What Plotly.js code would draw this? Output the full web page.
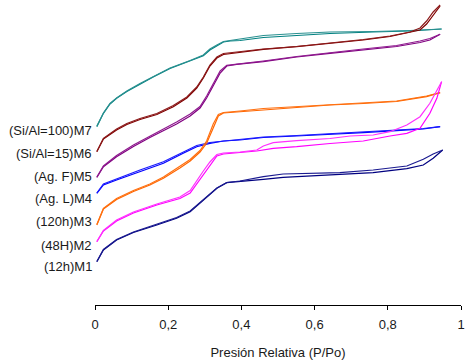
<!DOCTYPE html>
<html>
<head>
<meta charset="utf-8">
<script src="https://cdn.plot.ly/plotly-3.0.1.min.js"></script>
<style>html,body{margin:0;padding:0;background:#fff}#chart{width:468px;height:360px}</style>
</head>
<body>
<div id="chart"></div>
<script>
// Sample names (labels at left of each isotherm)
const sampleLabels = ["(Si/Al=100)M7", "(Si/Al=15)M6", "(Ag. F)M5", "(Ag. L)M4", "(120h)M3", "(48H)M2", "(12h)M1"];

// Isotherms: relative pressure (P/Po) and adsorbed quantity (offset, arbitrary units)
// M7
const m7AdsX = [0.005,0.023,0.041,0.059,0.087,0.123,0.159,0.205,0.26,0.296,0.314,0.333,0.351,0.369,0.396,0.46,0.551,0.642,0.76,0.861,0.947];
const m7AdsY = [179.3,192.7,202,207.7,214.5,222,229,237.5,245,250.3,256,260.5,264,265,265.5,268.5,270.5,272.5,274,275,277];
const m7DesX = [0.947,0.861,0.76,0.642,0.551,0.46,0.396,0.369,0.351,0.333,0.314,0.296,0.26,0.205,0.159,0.123,0.087,0.059,0.041,0.023,0.005];
const m7DesY = [277,275.5,274.5,274,272.5,270.5,267,265.5,264.5,261,257,251,245.5,238,229.5,222.5,215,208,202.5,193,180];
// M6
const m6AdsX = [0.005,0.023,0.059,0.087,0.123,0.169,0.214,0.251,0.278,0.296,0.314,0.333,0.351,0.378,0.396,0.46,0.551,0.642,0.733,0.806,0.861,0.888,0.906,0.924,0.943];
const m6AdsY = [154.3,167,176,181.5,186.5,191.5,199.3,208,218,228,240,248,251.5,252.7,253.3,256.7,259.3,262.7,266,269.5,273.5,276,282,290.5,300];
const m6DesX = [0.943,0.924,0.906,0.888,0.861,0.806,0.733,0.642,0.551,0.46,0.396,0.378,0.351,0.333,0.314,0.296,0.278,0.251,0.214,0.169,0.123,0.087,0.059,0.023,0.005];
const m6DesY = [301,294,285,278,274,270,266.5,263,259.5,257,254,253.3,252.5,249,241,229,219,209,200.5,192.5,187.5,182.5,177,167.5,154.5];
// M5
const m5AdsX = [0.005,0.023,0.059,0.105,0.15,0.187,0.223,0.26,0.287,0.305,0.323,0.342,0.36,0.387,0.46,0.551,0.642,0.733,0.824,0.888,0.915,0.943];
const m5AdsY = [128.5,139.3,149.3,159.5,168.5,175,182,190,198,208,220,233,240,241.7,244.3,249,252.7,256,259.5,263.5,266,271.7];
const m5DesX = [0.943,0.915,0.888,0.824,0.733,0.642,0.551,0.46,0.387,0.36,0.342,0.323,0.305,0.287,0.26,0.223,0.187,0.15,0.105,0.059,0.023,0.005];
const m5DesY = [271.7,267.5,265,260.5,257,253.5,249.5,245,242.3,240.7,235,222,210,199.5,192,184,177,170,161,150.5,140,129];
// M4
const m4AdsX = [0.005,0.023,0.059,0.123,0.187,0.241,0.278,0.314,0.351,0.396,0.46,0.551,0.642,0.733,0.824,0.897,0.943];
const m4AdsY = [112.7,121,126,134.3,142.7,152.7,159.3,162.7,165,166,168.5,170,171.5,173.3,175.3,177,179.3];
const m4DesX = [0.943,0.897,0.824,0.733,0.642,0.551,0.46,0.396,0.351,0.314,0.278,0.241,0.187,0.123,0.059,0.023,0.005];
const m4DesY = [179.3,177.5,176,174,172,170.5,169,166.7,165.5,163.5,160.5,154,144.3,136,127.5,122,113];
// M3
const m3AdsX = [0.005,0.023,0.059,0.105,0.15,0.187,0.232,0.26,0.287,0.305,0.323,0.337,0.351,0.369,0.396,0.46,0.551,0.642,0.733,0.824,0.906,0.943];
const m3AdsY = [81,97,106.5,114.5,121,127.7,138,145,154,162.7,178,190,193,193.5,194.3,196.5,199,201,202.5,204.5,209.3,213.3];
const m3DesX = [0.943,0.906,0.824,0.733,0.642,0.551,0.46,0.396,0.369,0.351,0.337,0.323,0.305,0.287,0.26,0.232,0.187,0.15,0.105,0.059,0.023,0.005];
const m3DesY = [213.3,210,205,203,201.5,199.5,197.5,195,194.5,193.5,191.5,182,165,155.5,146.5,139.5,129,122,115.5,107.5,97.5,81.5];
// M2
const m2AdsX = [0.005,0.023,0.059,0.105,0.169,0.232,0.26,0.278,0.296,0.314,0.333,0.351,0.378,0.396,0.442,0.487,0.551,0.642,0.733,0.806,0.852,0.888,0.915,0.934,0.947];
const m2AdsY = [64.3,75,85,93,101,107.5,113,122,132,141,150,152,153,153.5,155,157.7,159.3,162.5,165,170,172.7,177.7,192.7,207.7,224.3];
const m2DesX = [0.947,0.934,0.915,0.888,0.852,0.806,0.76,0.697,0.642,0.551,0.487,0.46,0.442,0.396,0.369,0.351,0.333,0.314,0.296,0.278,0.26,0.232,0.169,0.105,0.059,0.023,0.005];
const m2DesY = [224.3,216,202.7,189.3,181,174.3,171,170,167.5,165.3,163.3,160,156,154,153.5,153,151.5,144,135,125,115.5,109,102,94,86,75.5,64.5];
// M1
const m1AdsX = [0.005,0.023,0.059,0.105,0.169,0.223,0.26,0.296,0.333,0.36,0.396,0.46,0.514,0.697,0.76,0.852,0.897,0.924,0.95];
const m1AdsY = [44.3,56,66,73.5,81,87.7,94.3,106,117.7,123.3,124.3,126.7,128.7,132,133.3,137.3,141,147.7,156];
const m1DesX = [0.95,0.924,0.897,0.852,0.76,0.669,0.514,0.46,0.396,0.36,0.333,0.296,0.26,0.223,0.169,0.105,0.059,0.023,0.005];
const m1DesY = [156,152,146.7,140,136,133.3,132,129.3,125,123.5,118,106.5,95,88.5,81.5,74,66.5,56.5,44.5];

const colors = {
  m7: ["#008080", "#2a9090"],
  m6: ["#800000", "#8c1a1a"],
  m5: ["#800080", "#8f1a8f"],
  m4: ["#0000ff", "#1a1aff"],
  m3: ["#ff6600", "#ff7010"],
  m2: ["#ff00ff", "#ff30ff"],
  m1: ["#000080", "#1a1a90"]
};

function tr(x, y, c) {
  return {x: x, y: y, type: "scatter", mode: "lines", line: {color: c, width: 1.2}, hoverinfo: "skip", showlegend: false};
}

const traces = [
  tr(m7AdsX, m7AdsY, colors.m7[0]), tr(m7DesX, m7DesY, colors.m7[1]),
  tr(m6AdsX, m6AdsY, colors.m6[0]), tr(m6DesX, m6DesY, colors.m6[1]),
  tr(m5AdsX, m5AdsY, colors.m5[0]), tr(m5DesX, m5DesY, colors.m5[1]),
  tr(m4AdsX, m4AdsY, colors.m4[0]), tr(m4DesX, m4DesY, colors.m4[1]),
  tr(m3AdsX, m3AdsY, colors.m3[0]), tr(m3DesX, m3DesY, colors.m3[1]),
  tr(m2AdsX, m2AdsY, colors.m2[0]), tr(m2DesX, m2DesY, colors.m2[1]),
  tr(m1AdsX, m1AdsY, colors.m1[0]), tr(m1DesX, m1DesY, colors.m1[1])
];

const labelYs = [176, 152.7, 129.3, 107.7, 84.3, 61, 39.3];
const annotations = sampleLabels.map((t, i) => ({
  text: t, xref: "paper", yref: "y", x: -0.004, y: labelYs[i],
  xanchor: "right", yanchor: "middle", showarrow: false,
  font: {family: "Liberation Sans, Arial, sans-serif", size: 13, color: "#1a1a1a"}
}));

const layout = {
  width: 468, height: 360,
  margin: {l: 95, r: 7, t: 0, b: 55},
  paper_bgcolor: "#ffffff", plot_bgcolor: "#ffffff",
  separators: ",.",
  font: {family: "Liberation Sans, Arial, sans-serif", size: 13, color: "#1a1a1a"},
  xaxis: {
    range: [0, 1], tick0: 0, dtick: 0.2, showgrid: false, zeroline: false,
    showline: true, linecolor: "#000", linewidth: 1,
    ticks: "outside", ticklen: 4, tickcolor: "#000", tickwidth: 1,
    ticklabelstandoff: 3,
    tickfont: {size: 13, color: "#1a1a1a"},
    title: {text: "Presión Relativa (P/Po)", font: {size: 13, color: "#1a1a1a"}, standoff: 17}
  },
  yaxis: {range: [1, 306], visible: false, showgrid: false, zeroline: false},
  annotations: annotations,
  showlegend: false
};

Plotly.newPlot("chart", traces, layout, {displayModeBar: false, staticPlot: true});
</script>
</body>
</html>
